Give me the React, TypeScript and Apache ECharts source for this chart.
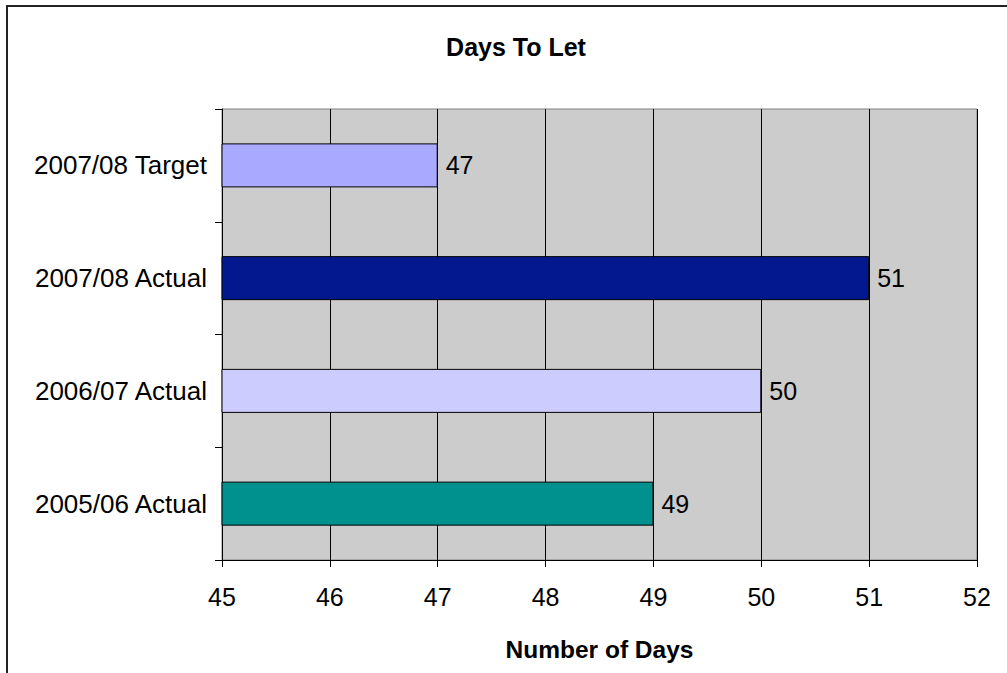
import React, { useEffect, useRef } from "react";
import * as echarts from "echarts";

const categories = ["2007/08 Target", "2007/08 Actual", "2006/07 Actual", "2005/06 Actual"];
const values = [47, 51, 50, 49];
const barColors = ["#A9A9FF", "#03178F", "#CCCCFF", "#00918F"];
const xMin = 45;
const xMax = 52;
const xInterval = 1;
const titleText = "Days To Let";
const xAxisTitle = "Number of Days";

const FONT = "'Liberation Sans', Arial, sans-serif";

export default function App() {
  const ref = useRef<HTMLDivElement>(null);
  useEffect(() => {
    if (!ref.current) return;
    const chart = echarts.init(ref.current, undefined, { renderer: "svg" });
    chart.setOption({
      animation: false,
      backgroundColor: "#FFFFFF",
      textStyle: { fontFamily: FONT },
      title: {
        text: titleText,
        left: 511,
        top: 29,
        textAlign: "center",
        textStyle: { fontFamily: FONT, fontSize: 25, fontWeight: "bold", color: "#000" },
      },
      graphic: [
        {
          type: "rect",
          shape: { x: 7, y: 6, width: 1200, height: 900 },
          style: { fill: "none", stroke: "#222", lineWidth: 2 },
          silent: true,
          z: 100,
        },
      ],
      grid: {
        left: 222,
        right: 30,
        top: 109,
        bottom: 113,
        show: true,
        backgroundColor: "#CCCCCC",
        borderColor: "#808080",
        borderWidth: 1,
      },
      xAxis: {
        type: "value",
        min: xMin,
        max: xMax,
        interval: xInterval,
        name: xAxisTitle,
        nameLocation: "middle",
        nameGap: 77,
        nameTextStyle: { fontFamily: FONT, fontSize: 24.5, fontWeight: "bold", color: "#000" },
        axisLine: { show: true, lineStyle: { color: "#000", width: 1 } },
        axisTick: { show: true, length: 7, lineStyle: { color: "#000" } },
        axisLabel: { fontFamily: FONT, fontSize: 25, color: "#000", margin: 24 },
        splitLine: { show: true, lineStyle: { color: "#000", width: 1 } },
      },
      yAxis: {
        type: "category",
        data: categories,
        inverse: true,
        axisLine: { show: true, lineStyle: { color: "#000", width: 1 } },
        axisTick: { show: true, length: 7, lineStyle: { color: "#000" } },
        axisLabel: { fontFamily: FONT, fontSize: 26, color: "#000", margin: 15 },
        splitLine: { show: false },
      },
      series: [
        {
          type: "bar",
          data: values.map((v, i) => ({
            value: v,
            itemStyle: { color: barColors[i], borderColor: "#000", borderWidth: 1 },
          })),
          barWidth: 44,
          label: {
            show: true,
            position: "right",
            distance: 8,
            fontFamily: FONT,
            fontSize: 25,
            color: "#000",
          },
        },
      ],
    });
    return () => chart.dispose();
  }, []);
  return (
    <div
      ref={ref}
      style={{ position: "absolute", left: 0, top: 0, width: 1007, height: 673 }}
    />
  );
}
